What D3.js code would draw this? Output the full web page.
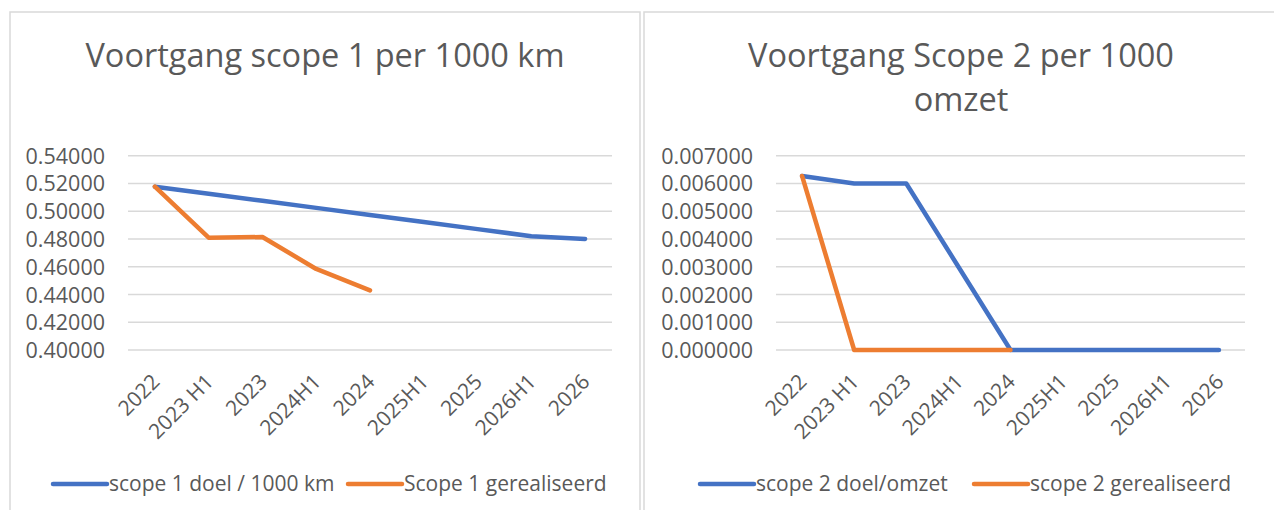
<!DOCTYPE html>
<html>
<head>
<meta charset="utf-8">
<script src="https://cdn.jsdelivr.net/npm/d3@7"></script>
<style>
  body { margin: 0; background: #fff; }
  text { font-family: "Open Sans", sans-serif; fill: #595959; }
</style>
</head>
<body>
<script>
// categories shared by both charts
var periods = ["2022", "2023 H1", "2023", "2024H1", "2024", "2025H1", "2025", "2026H1", "2026"];

// scope 1 per 1000 km
var scope1Target = [0.5177, 0.5126, 0.5075, 0.5024, 0.4973, 0.4922, 0.4871, 0.4820, 0.4800];
var scope1Actual = [0.5177, 0.4809, 0.4814, 0.4584, 0.4430];
var scope1Ticks = [0.40, 0.42, 0.44, 0.46, 0.48, 0.50, 0.52, 0.54];

// scope 2 per 1000 omzet
var scope2Target = [0.00627, 0.00600, 0.00600, 0.00300, 0, 0, 0, 0, 0];
var scope2Actual = [0.00627, 0, 0, 0, 0];
var scope2Ticks = [0, 0.001, 0.002, 0.003, 0.004, 0.005, 0.006, 0.007];

var blue = "#4472C4", orange = "#ED7D31";

var svg = d3.select("body").append("svg").attr("width", 1274).attr("height", 510);

function draw_chart(cfg) {
  var g = svg.append("g");

  // chart border
  g.append("rect").attr("x", cfg.box[0]).attr("y", cfg.box[1])
    .attr("width", cfg.box[2]).attr("height", cfg.box[3])
    .attr("fill", "#fff").attr("stroke", "#D9D9D9").attr("stroke-width", 1.5);

  // title (may wrap)
  var title = g.append("text").attr("text-anchor", "middle").attr("font-size", "32.5px");
  cfg.title.forEach(function(line, i) {
    title.append("tspan").attr("x", cfg.titleX).attr("y", 67 + i * 44).text(line);
  });

  var x = d3.scaleBand().domain(periods).range([cfg.left, cfg.right]);
  var y = d3.scaleLinear().domain(cfg.domain).range([350, 155.7]);

  // gridlines
  g.append("g").selectAll("line").data(cfg.ticks).enter().append("line")
    .attr("x1", cfg.left).attr("x2", cfg.right)
    .attr("y1", d => y(d)).attr("y2", d => y(d))
    .attr("stroke", "#D9D9D9").attr("stroke-width", 1.5);

  // y axis labels
  var yAxis = d3.axisLeft(y).tickValues(cfg.ticks).tickFormat(d3.format(cfg.fmt)).tickSize(0).tickPadding(0);
  var ya = g.append("g").attr("transform", "translate(" + (cfg.left - 23) + ",0)").call(yAxis);
  ya.select(".domain").remove();
  ya.selectAll("text").attr("font-size", "21.5px").attr("dy", "0.35em").attr("font-family", null).attr("fill", null);

  // x axis labels, rotated
  g.append("g").selectAll("text").data(periods).enter().append("text")
    .attr("text-anchor", "end").attr("font-size", "21px")
    .attr("transform", d => "translate(" + (x(d) + x.bandwidth() / 2 + 6) + ",383) rotate(-45)")
    .text(d => d);

  var line = d3.line().x((d, i) => x(periods[i]) + x.bandwidth() / 2).y(d => y(d));

  g.append("path").datum(cfg.target).attr("d", line).attr("fill", "none")
    .attr("stroke", blue).attr("stroke-width", 4.5).attr("stroke-linecap", "round").attr("stroke-linejoin", "round");
  g.append("path").datum(cfg.actual).attr("d", line).attr("fill", "none")
    .attr("stroke", orange).attr("stroke-width", 4.5).attr("stroke-linecap", "round").attr("stroke-linejoin", "round");

  // legend
  var leg = g.append("g");
  cfg.legend.forEach(function(item) {
    leg.append("line").attr("x1", item.x).attr("x2", item.x + 54).attr("y1", 484).attr("y2", 484)
      .attr("stroke", item.color).attr("stroke-width", 4.5).attr("stroke-linecap", "round");
    leg.append("text").attr("x", item.x + 56).attr("y", 484).attr("dy", "0.35em")
      .attr("font-size", "21px").text(item.label);
  });
}

draw_chart({
  box: [10, 12, 630, 510],
  title: ["Voortgang scope 1 per 1000 km"],
  titleX: 325,
  left: 128, right: 612,
  domain: [0.40, 0.54],
  ticks: scope1Ticks,
  fmt: ".5f",
  target: scope1Target,
  actual: scope1Actual,
  legend: [
    { x: 53, color: blue, label: "scope 1 doel / 1000 km" },
    { x: 348, color: orange, label: "Scope 1 gerealiseerd" }
  ]
});

draw_chart({
  box: [644, 12, 640, 510],
  title: ["Voortgang Scope 2 per 1000", "omzet"],
  titleX: 961,
  left: 776, right: 1245,
  domain: [0, 0.007],
  ticks: scope2Ticks,
  fmt: ".6f",
  target: scope2Target,
  actual: scope2Actual,
  legend: [
    { x: 700, color: blue, label: "scope 2 doel/omzet" },
    { x: 974, color: orange, label: "scope 2 gerealiseerd" }
  ]
});
</script>
</body>
</html>
